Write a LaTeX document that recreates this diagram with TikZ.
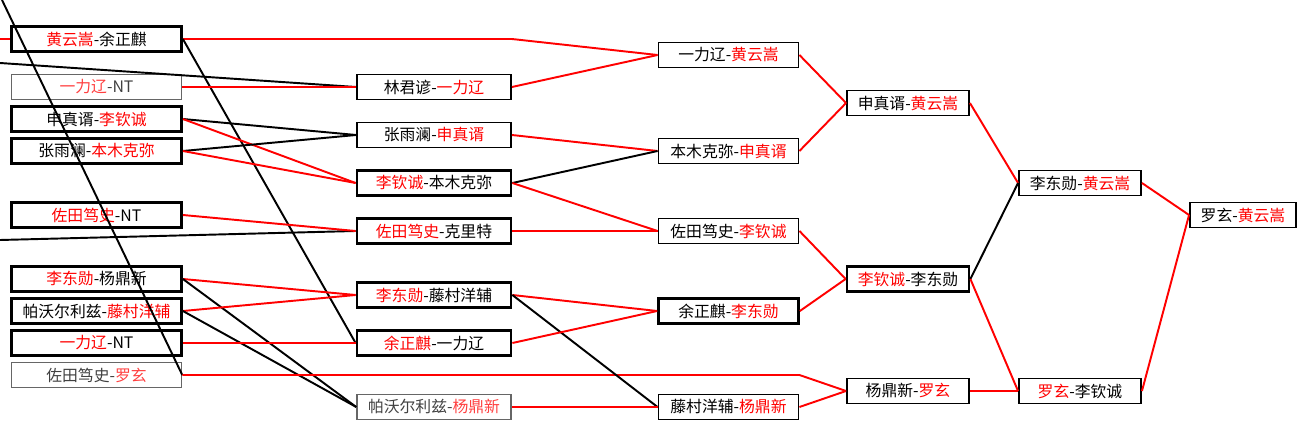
\documentclass[tikz,border=0pt]{standalone}
\usepackage{fontspec}
\usepackage{xcolor}
\usepackage{tikz}
\newfontfamily\cjk{Noto Sans CJK SC}
\newcommand\win[1]{\textcolor{red}{#1}}
\newcommand\winl[1]{\textcolor{red!75}{#1}}

\begin{document}
\begin{tikzpicture}[
  x=0.02cm, y=-0.02cm,
  box/.style={rectangle, draw, line width=1.1pt, minimum height=0.5cm, inner sep=0pt,
              font=\cjk\fontsize{9}{10}\selectfont},
  boxb/.style={box, line width=1.6pt},
  boxl/.style={box, draw=black!60, line width=0.9pt, text=black!75},
  ca/.style={minimum width=3.4cm},
  cb/.style={minimum width=3.08cm},
  cc/.style={minimum width=2.8cm},
  cd/.style={minimum width=2.44cm},
  cf/.style={minimum width=2.12cm},
  win/.style={red, line width=1.1pt},
  lose/.style={black, line width=1.1pt}
]
  \useasboundingbox (0,0) rectangle (1306,429);

  \node[boxb, ca] (a1) at (96.5,39)  {\win{黄云嵩}-余正麒};
  \node[boxl, ca] (a2) at (96.5,87)  {\winl{一力辽}-NT};
  \node[boxb, ca] (a3) at (96.5,119) {申真谞-\win{李钦诚}};
  \node[boxb, ca] (a4) at (96.5,151) {张雨澜-\win{本木克弥}};
  \node[boxb, ca] (a5) at (96.5,215) {\win{佐田笃史}-NT};
  \node[boxb, ca] (a6) at (96.5,279) {\win{李东勋}-杨鼎新};
  \node[boxb, ca] (a7) at (96.5,311) {帕沃尔利兹-\win{藤村洋辅}};
  \node[boxb, ca] (a8) at (96.5,343) {\win{一力辽}-NT};
  \node[boxl, ca] (a9) at (96.5,375) {佐田笃史-\winl{罗玄}};

  \node[box, cb]  (b1) at (434,87)  {林君谚-\win{一力辽}};
  \node[box, cb]  (b2) at (434,135) {张雨澜-\win{申真谞}};
  \node[boxb, cb] (b3) at (434,183) {\win{李钦诚}-本木克弥};
  \node[boxb, cb] (b4) at (434,231) {\win{佐田笃史}-克里特};
  \node[boxb, cb] (b5) at (434,295) {\win{李东勋}-藤村洋辅};
  \node[boxb, cb] (b6) at (434,343) {\win{余正麒}-一力辽};
  \node[boxl, cb] (b7) at (434,407) {帕沃尔利兹-\winl{杨鼎新}};

  \node[box, cc]  (c1) at (728.5,55)  {一力辽-\win{黄云嵩}};
  \node[box, cc]  (c2) at (728.5,151) {本木克弥-\win{申真谞}};
  \node[box, cc]  (c3) at (728.5,231) {佐田笃史-\win{李钦诚}};
  \node[boxb, cc] (c4) at (728.5,311) {余正麒-\win{李东勋}};
  \node[box, cc]  (c5) at (728.5,407) {藤村洋辅-\win{杨鼎新}};

  \node[box, cd]  (d1) at (908,103) {申真谞-\win{黄云嵩}};
  \node[boxb, cd] (d2) at (908,279) {\win{李钦诚}-李东勋};
  \node[box, cd]  (d3) at (908,391) {杨鼎新-\win{罗玄}};

  \node[box, cd] (e1) at (1080,183) {李东勋-\win{黄云嵩}};
  \node[box, cd] (e2) at (1080,391) {\win{罗玄}-李钦诚};

  \node[box, cf] (f1) at (1243,215) {罗玄-\win{黄云嵩}};

  \coordinate (in1) at (0,39);
  \coordinate (in2) at (0,63);
  \coordinate (in3) at (0,240);
  \coordinate (in4) at (2,0);

  \draw[win]  (in1) -- (a1.west);
  \draw[lose] (in2) -- (b1.west);
  \draw[lose] (in3) -- (b4.west);
  \draw[lose] (in4) -- (a9.east);

  \draw[win]  (a1.east) -- (b1.east |- a1.east) -- (c1.west);
  \draw[lose] (a1.east) -- (b6.west);
  \draw[win]  (a2.east) -- (b1.west);
  \draw[lose] (a3.east) -- (b2.west);
  \draw[win]  (a3.east) -- (b3.west);
  \draw[lose] (a4.east) -- (b2.west);
  \draw[win]  (a4.east) -- (b3.west);
  \draw[win]  (a5.east) -- (b4.west);
  \draw[win]  (a6.east) -- (b5.west);
  \draw[lose] (a6.east) -- (b7.west);
  \draw[win]  (a7.east) -- (b5.west);
  \draw[lose] (a7.east) -- (b7.west);
  \draw[win]  (a8.east) -- (b6.west);
  \draw[win]  (a9.east) -- (c5.east |- a9.east) -- (d3.west);

  \draw[win]  (b1.east) -- (c1.west);
  \draw[win]  (b2.east) -- (c2.west);
  \draw[lose] (b3.east) -- (c2.west);
  \draw[win]  (b3.east) -- (c3.west);
  \draw[win]  (b4.east) -- (c3.west);
  \draw[win]  (b5.east) -- (c4.west);
  \draw[lose] (b5.east) -- (c5.west);
  \draw[win]  (b6.east) -- (c4.west);
  \draw[win]  (b7.east) -- (c5.west);

  \draw[win]  (c1.east) -- (d1.west);
  \draw[win]  (c2.east) -- (d1.west);
  \draw[win]  (c3.east) -- (d2.west);
  \draw[win]  (c4.east) -- (d2.west);
  \draw[win]  (c5.east) -- (d3.west);

  \draw[win]  (d1.east) -- (e1.west);
  \draw[lose] (d2.east) -- (e1.west);
  \draw[win]  (d2.east) -- (e2.west);
  \draw[win]  (d3.east) -- (e2.west);

  \draw[win]  (e1.east) -- (f1.west);
  \draw[win]  (e2.east) -- (f1.west);
\end{tikzpicture}
\end{document}
